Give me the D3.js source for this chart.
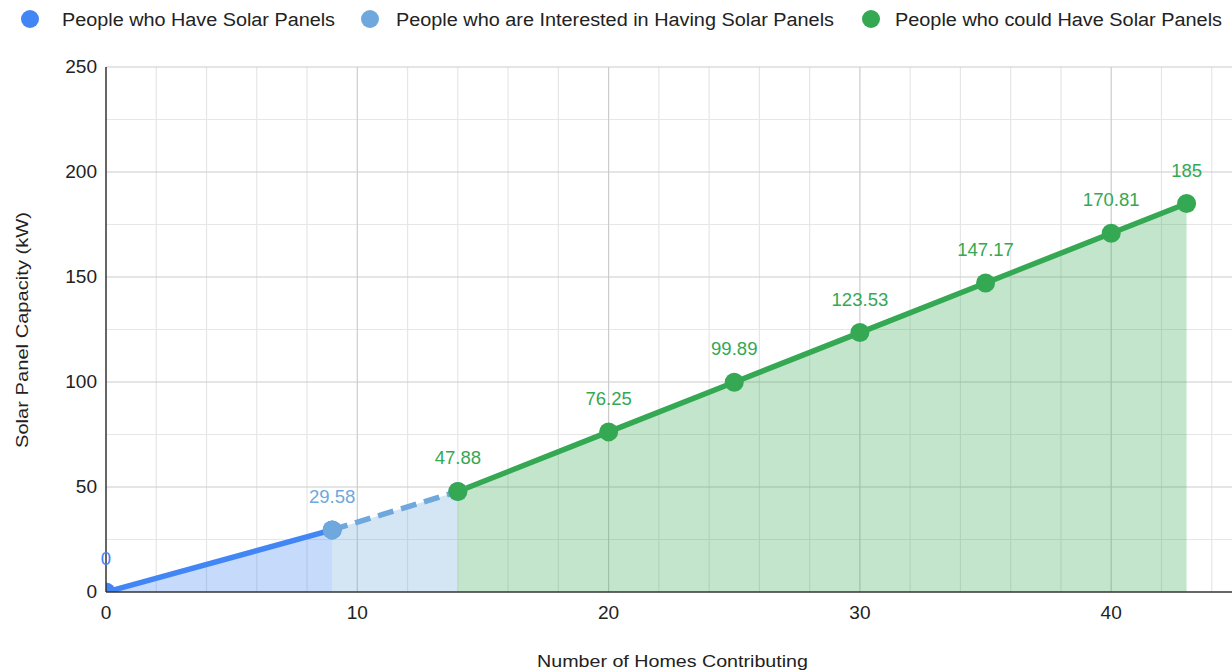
<!DOCTYPE html>
<html><head><meta charset="utf-8">
<script src="https://cdn.jsdelivr.net/npm/d3@7"></script>
<style>body{margin:0;background:#fff;} svg{display:block;font-family:"Liberation Sans",Arial,sans-serif;}</style>
</head><body>
<svg id="c" width="1232" height="670"></svg>
<script>
const seriesNames = ["People who Have Solar Panels","People who are Interested in Having Solar Panels","People who could Have Solar Panels"];
const seriesColors = ["#4285f4","#6fa8dc","#34a853"];
const haveX = [0, 9];
const haveY = [0, 29.58];
const interestedX = [9, 14];
const interestedY = [29.58, 47.88];
const couldX = [14, 20, 25, 30, 35, 40, 43];
const couldY = [47.88, 76.25, 99.89, 123.53, 147.17, 170.81, 185];
const xTicks = [0, 10, 20, 30, 40];
const yTicks = [0, 50, 100, 150, 200, 250];
const xTitle = "Number of Homes Contributing";
const yTitle = "Solar Panel Capacity (kW)";

const svg = d3.select("#c");
const x = d3.scaleLinear().domain([0, 46]).range([106, 106 + 46 * 25.13]);
const y = d3.scaleLinear().domain([0, 250]).range([592, 67]);
const W = 1232;
const SX = 1.06;

svg.append("defs").append("clipPath").attr("id", "plotclip").append("rect")
  .attr("x", x(0)).attr("y", 0).attr("width", W - x(0)).attr("height", y(0));

function stext(px, py, str, size, fill, anchor) {
  return svg.append("text")
    .attr("transform", `translate(${px},${py}) scale(${SX},1)`)
    .attr("text-anchor", anchor).attr("font-size", size).attr("fill", fill).text(str);
}

// grid
const g = svg.append("g");
for (let v = 0; v <= 46; v += 2) {
  if (v % 10 === 0) continue;
  g.append("line").attr("x1", x(v)).attr("x2", x(v)).attr("y1", y(250)).attr("y2", y(0)).attr("stroke", "#e6e6e6").attr("stroke-width", 1.2);
}
for (let v = 25; v <= 250; v += 50) {
  g.append("line").attr("x1", x(0)).attr("x2", W).attr("y1", y(v)).attr("y2", y(v)).attr("stroke", "#e6e6e6").attr("stroke-width", 1.2);
}
xTicks.forEach(v => { if (v) g.append("line").attr("x1", x(v)).attr("x2", x(v)).attr("y1", y(250)).attr("y2", y(0)).attr("stroke", "#cccccc").attr("stroke-width", 1.2); });
yTicks.forEach(v => { if (v) g.append("line").attr("x1", x(0)).attr("x2", W).attr("y1", y(v)).attr("y2", y(v)).attr("stroke", "#cccccc").attr("stroke-width", 1.2); });

const sets = [
  {xs: haveX, ys: haveY, c: seriesColors[0], dash: null, labels: [0]},
  {xs: interestedX, ys: interestedY, c: seriesColors[1], dash: "16,8", labels: [0]},
  {xs: couldX, ys: couldY, c: seriesColors[2], dash: null, labels: couldX.map((d,i)=>i)}
];
const area = d3.area().x(d => x(d[0])).y0(y(0)).y1(d => y(d[1]));
const line = d3.line().x(d => x(d[0])).y(d => y(d[1]));
sets.forEach(s => {
  const pts = s.xs.map((v, i) => [v, s.ys[i]]);
  svg.append("path").attr("d", area(pts)).attr("fill", s.c).attr("fill-opacity", 0.3);
});

const marks = svg.append("g").attr("clip-path", "url(#plotclip)");
sets.forEach(s => {
  const pts = s.xs.map((v, i) => [v, s.ys[i]]);
  const p = marks.append("path").attr("d", line(pts)).attr("fill", "none").attr("stroke", s.c).attr("stroke-width", 5.5);
  if (s.dash) p.attr("stroke-dasharray", s.dash);
});
sets.forEach(s => {
  s.xs.forEach((v, i) => {
    marks.append("circle").attr("cx", x(v)).attr("cy", y(s.ys[i])).attr("r", 9.5).attr("fill", s.c);
  });
});
// axes
svg.append("line").attr("x1", x(0)).attr("x2", x(0)).attr("y1", y(250)).attr("y2", y(0)).attr("stroke", "#333").attr("stroke-width", 1.5);
svg.append("line").attr("x1", x(0)).attr("x2", W).attr("y1", y(0)).attr("y2", y(0)).attr("stroke", "#333").attr("stroke-width", 1.5);

sets.forEach(s => {
  s.labels.forEach(i => {
    stext(x(s.xs[i]), y(s.ys[i]) - 27, String(s.ys[i]), 17.5, s.c, "middle");
  });
});

// tick labels
xTicks.forEach(d => stext(x(d), 619, d, 18, "#222", "middle"));
yTicks.forEach(d => stext(97, y(d) + 6, d, 18, "#222", "end"));

svg.append("text").attr("x", 537).attr("y", 667).attr("font-size", 16.5).attr("fill", "#222")
  .attr("textLength", 271).attr("lengthAdjust", "spacingAndGlyphs").text(xTitle);
svg.append("text").attr("transform", "translate(28,448) rotate(-90)").attr("font-size", 16.5).attr("fill", "#222")
  .attr("textLength", 236).attr("lengthAdjust", "spacingAndGlyphs").text(yTitle);

// legend
const legX = [30, 370, 871];
const legTextX = [62, 396, 895];
const legW = [273, 438, 327];
seriesNames.forEach((n, i) => {
  svg.append("circle").attr("cx", legX[i]).attr("cy", 19).attr("r", 9).attr("fill", seriesColors[i]);
  svg.append("text").attr("x", legTextX[i]).attr("y", 25.5).attr("font-size", 18).attr("fill", "#222")
    .attr("textLength", legW[i]).attr("lengthAdjust", "spacingAndGlyphs").text(n);
});
</script>
</body></html>
